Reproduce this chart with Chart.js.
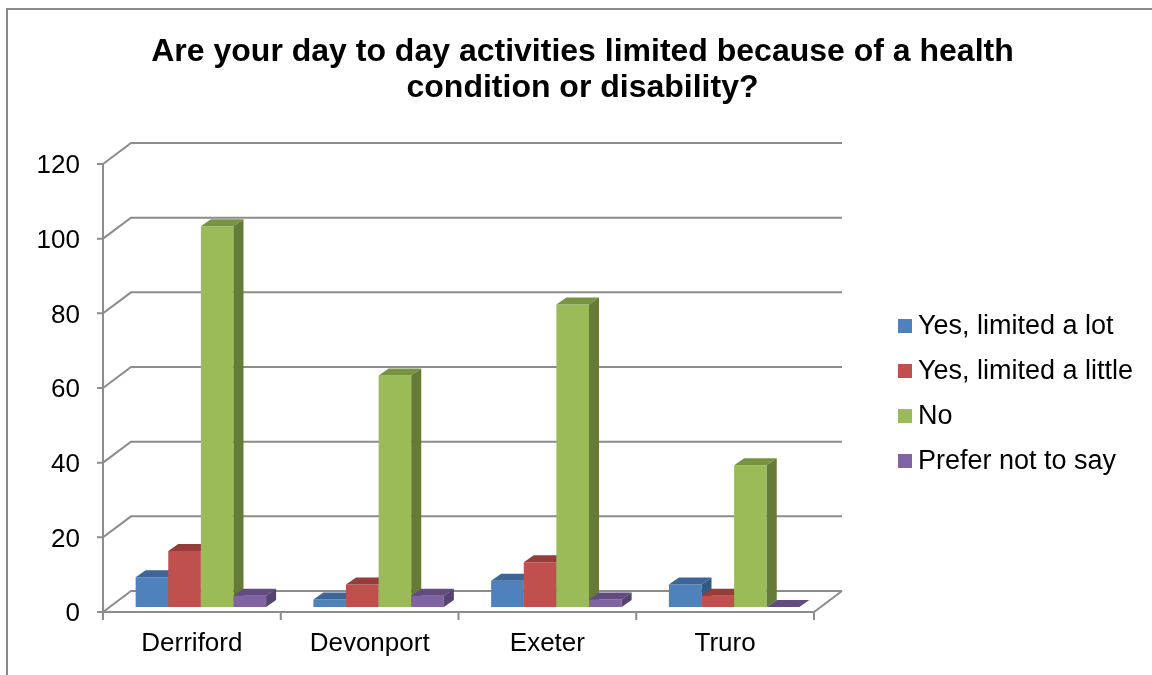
<!DOCTYPE html>
<html>
<head>
<meta charset="utf-8">
<title>Day to day activities</title>
<script src="https://cdn.jsdelivr.net/npm/chart.js@4.4.1/dist/chart.umd.min.js"></script>
<style>
  html, body { margin: 0; padding: 0; background: #fff; overflow: hidden; }
  #frame { position: absolute; left: 6px; top: 8px; width: 1200px; height: 700px;
    border-left: 2px solid #8a8a8a; border-top: 2px solid #8a8a8a; }
  #chart { position: absolute; left: 0; top: 0; }
  #legend { position: absolute; left: 898px; top: 303px; margin: 0; padding: 0; list-style: none;
    font: 27px Arial, "Liberation Sans", sans-serif; color: #000; }
  #legend li { display: flex; align-items: center; height: 45px; white-space: nowrap; }
  #legend .box { width: 14px; height: 14px; margin-right: 6px; flex: none; }
</style>
</head>
<body>
<div id="frame"></div>
<canvas id="chart" width="1152" height="675"></canvas>
<ul id="legend"></ul>
<script>
// ---- data ----
const categories = ['Derriford', 'Devonport', 'Exeter', 'Truro'];
const seriesNames = ['Yes, limited a lot', 'Yes, limited a little', 'No', 'Prefer not to say'];
const yesLot = [8, 2, 7, 6];
const yesLittle = [15, 6, 12, 3];
const no = [102, 62, 81, 38];
const preferNot = [3, 3, 2, 0];
const yMax = 120;
const yStep = 20;

// ---- styles ----
const FRONT = ['#4F81BD', '#C0504D', '#9BBB59', '#8064A2'];
const TOP = ['#3D6597', '#963D3A', '#789342', '#614B80'];
const SIDE = ['#355985', '#863634', '#657B37', '#564370'];
const GRID = '#8c8c8c';
const FONT = 'Arial, "Liberation Sans", sans-serif';
const WALL = { x: 28, y: -21 };      // depth of the back wall
const SHIFT = { x: 9, y: -5 };       // bars stand mid-depth
const BAR = { x: 10, y: -7 };        // depth of each bar

// back wall, side wall and floor, taken from the scales
const walls = {
  id: 'walls',
  beforeDatasetsDraw(chart) {
    const { ctx, chartArea: a, scales: { x, y } } = chart;
    const n = x.ticks.length;
    ctx.save();
    ctx.strokeStyle = GRID;
    ctx.lineWidth = 2;
    ctx.beginPath();
    y.ticks.forEach((t) => {
      const py = y.getPixelForValue(t.value);
      ctx.moveTo(a.left - 6, py);
      ctx.lineTo(a.left, py);
      ctx.lineTo(a.left + WALL.x, py + WALL.y);
      ctx.lineTo(a.right + WALL.x, py + WALL.y);
    });
    // front axis + floor
    ctx.moveTo(a.left, y.getPixelForValue(yMax));
    ctx.lineTo(a.left, a.bottom);
    ctx.lineTo(a.right, a.bottom);
    ctx.lineTo(a.right + WALL.x, a.bottom + WALL.y);
    for (let i = 0; i <= n; i++) {
      const px = a.left + i * a.width / n;
      ctx.moveTo(px, a.bottom);
      ctx.lineTo(px, a.bottom + 8);
    }
    ctx.stroke();
    ctx.restore();
  },
  // draw the bars ourselves, left to right, so the 3D faces overlap right
  beforeDatasetDraw() { return false; },
  afterDatasetsDraw(chart) {
    const ctx = chart.ctx;
    ctx.save();
    ctx.translate(SHIFT.x, SHIFT.y);
    categories.forEach((_, i) => {
      chart.data.datasets.forEach((ds, d) => {
        const bar = chart.getDatasetMeta(d).data[i];
        const { x, y, base, width } = bar.getProps(['x', 'y', 'base', 'width'], true);
        const l = x - width / 2, r = x + width / 2;
        bar.draw(ctx);
        ctx.fillStyle = TOP[d];
        ctx.beginPath();
        ctx.moveTo(l, y); ctx.lineTo(r, y);
        ctx.lineTo(r + BAR.x, y + BAR.y); ctx.lineTo(l + BAR.x, y + BAR.y);
        ctx.closePath(); ctx.fill();
        ctx.fillStyle = SIDE[d];
        ctx.beginPath();
        ctx.moveTo(r, y); ctx.lineTo(r + BAR.x, y + BAR.y);
        ctx.lineTo(r + BAR.x, base + BAR.y); ctx.lineTo(r, base);
        ctx.closePath(); ctx.fill();
      });
    });
    ctx.restore();
  }
};

Chart.defaults.font.family = FONT;
Chart.defaults.color = '#000';

const chart = new Chart(document.getElementById('chart'), {
  type: 'bar',
  data: {
    labels: categories,
    datasets: [yesLot, yesLittle, no, preferNot].map((data, i) => ({
      label: seriesNames[i], data, backgroundColor: FRONT[i], borderWidth: 0,
      barPercentage: 1, categoryPercentage: 0.734, clip: false
    }))
  },
  options: {
    responsive: false,
    animation: false,
    layout: { padding: { left: 13, right: 0, top: 0, bottom: 0 } },
    plugins: {
      legend: { display: false },
      tooltip: { enabled: false },
      title: {
        display: true,
        text: ['Are your day to day activities limited because of a health', 'condition or disability?'],
        color: '#000',
        font: { size: 32, weight: 'bold', lineHeight: 1.125 },
        padding: { top: 34, bottom: 58 }
      }
    },
    scales: {
      x: {
        grid: { display: false, drawTicks: false }, border: { display: false },
        ticks: { font: { size: 26 }, padding: 16, maxRotation: 0, autoSkip: false },
        afterFit: (s) => { s.height = 63; }
      },
      y: {
        min: 0, max: yMax,
        grid: { display: false, drawTicks: false }, border: { display: false },
        ticks: { stepSize: yStep, font: { size: 26 }, padding: 23, labelOffset: 2 },
        afterFit: (s) => { s.width = 90; }
      },
      room: {
        type: 'linear', position: 'right', display: true,
        grid: { display: false, drawTicks: false }, border: { display: false },
        ticks: { display: false },
        afterFit: (s) => { s.width = 338; }
      }
    }
  },
  plugins: [walls]
});

// html legend from the chart's datasets
document.getElementById('legend').innerHTML = chart.data.datasets.map((ds) =>
  `<li><span class="box" style="background:${ds.backgroundColor}"></span>${ds.label}</li>`).join('');
</script>
</body>
</html>
